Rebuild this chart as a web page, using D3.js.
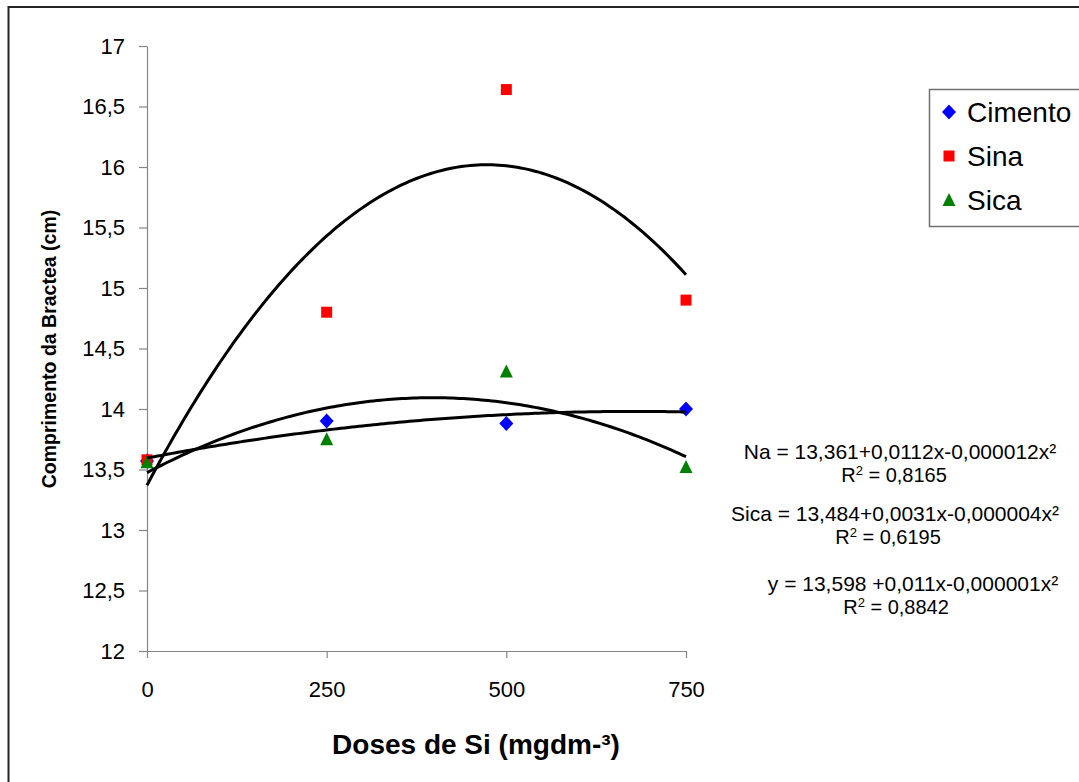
<!DOCTYPE html>
<html>
<head>
<meta charset="utf-8">
<script src="https://cdn.jsdelivr.net/npm/d3@7"></script>
<style>
  body { margin: 0; background: #fff; }
  svg { display: block; font-family: "Liberation Sans", Arial, sans-serif; }
</style>
</head>
<body>
<div class="chart"></div>
<script>
"use strict";

// data
const doses = [0, 250, 500, 750];
const cimento = [13.57, 13.90, 13.88, 14.00];
const sina = [13.58, 14.80, 16.64, 14.90];
const sica = [13.56, 13.75, 14.31, 13.52];

const seriesNames = ["Cimento", "Sina", "Sica"];
const seriesColors = ["#0000ff", "#ff0000", "#008000"];
const yTickValues = [12, 12.5, 13, 13.5, 14, 14.5, 15, 15.5, 16, 16.5, 17];

const equations = [
    "Na = 13,361+0,0112x-0,000012x²",
    "Sica = 13,484+0,0031x-0,000004x²",
    "y = 13,598 +0,011x-0,000001x²"
];
const rSquared = ["0,8165", "0,6195", "0,8842"];

const width = 1079, height = 782;
const plot = {left: 147, right: 686, top: 46, bottom: 651};

let svg = d3.select(".chart").append("svg")
    .attr("width", width)
    .attr("height", height);

// outer chart border (right and bottom fall outside the window)
svg.append("rect")
    .attr("x", 8.5).attr("y", 7)
    .attr("width", 1100).attr("height", 800)
    .style("fill", "none")
    .style("stroke", "#262626")
    .style("stroke-width", 2);

let x = d3.scaleLinear().domain([0, 750]).range([plot.left, plot.right]);
let y = d3.scaleLinear().domain([12, 17]).range([plot.bottom, plot.top]);

let fmt = d => String(d).replace(".", ",");

let yAxis = d3.axisLeft(y)
    .tickValues(yTickValues)
    .tickSize(8)
    .tickSizeOuter(0)
    .tickPadding(14)
    .tickFormat(fmt);

let xAxis = d3.axisBottom(x)
    .tickValues(doses)
    .tickSize(7)
    .tickSizeOuter(0)
    .tickPadding(23)
    .tickFormat(fmt);

let gx = svg.append("g")
    .attr("transform", "translate(0," + plot.bottom + ")")
    .call(xAxis);
let gy = svg.append("g")
    .attr("transform", "translate(" + plot.left + ",0)")
    .call(yAxis);

[gx, gy].forEach(g => {
    g.selectAll("path, line").style("stroke", "#858585").style("stroke-width", 1.2);
    g.selectAll("text")
        .style("font-size", "22px")
        .style("font-family", "'Liberation Sans', Arial, sans-serif")
        .style("fill", "#000");
});

// axis titles
svg.append("text")
    .attr("transform", "translate(56,349) rotate(-90)")
    .attr("text-anchor", "middle")
    .style("font-size", "19.5px")
    .style("font-weight", "bold")
    .text("Comprimento da Bractea (cm)");

svg.append("text")
    .attr("x", 476)
    .attr("y", 754)
    .attr("text-anchor", "middle")
    .style("font-size", "28px")
    .style("font-weight", "bold")
    .text("Doses de Si (mgdm-³)");

// marker shapes
function markerPath(i, cx, cy) {
    if (i === 0) {
        return "M" + cx + "," + (cy - 7.5) + "L" + (cx + 7) + "," + cy +
            "L" + cx + "," + (cy + 7.5) + "L" + (cx - 7) + "," + cy + "Z";
    } else if (i === 1) {
        return "M" + (cx - 5.5) + "," + (cy - 5.5) + "h11v11h-11Z";
    }
    return "M" + cx + "," + (cy - 7) + "L" + (cx + 6.5) + "," + (cy + 6) +
        "L" + (cx - 6.5) + "," + (cy + 6) + "Z";
}

let allSeries = [cimento, sina, sica];

allSeries.forEach((vals, i) => {
    svg.append("g").selectAll("path")
        .data(vals)
        .enter()
        .append("path")
        .attr("d", (d, k) => markerPath(i, x(doses[k]), y(d)))
        .style("fill", seriesColors[i]);
});

// quadratic least-squares trendlines
function quadFit(xs, ys) {
    let s = [0, 0, 0, 0, 0], t = [0, 0, 0];
    xs.forEach((xv, k) => {
        for (let p = 0; p < 5; p++) s[p] += Math.pow(xv, p);
        for (let p = 0; p < 3; p++) t[p] += Math.pow(xv, p) * ys[k];
    });
    let m = [[s[0], s[1], s[2], t[0]], [s[1], s[2], s[3], t[1]], [s[2], s[3], s[4], t[2]]];
    for (let c = 0; c < 3; c++) {
        for (let r = c + 1; r < 3; r++) {
            let f = m[r][c] / m[c][c];
            for (let k = c; k < 4; k++) m[r][k] -= f * m[c][k];
        }
    }
    let coef = [0, 0, 0];
    for (let r = 2; r >= 0; r--) {
        let v = m[r][3];
        for (let k = r + 1; k < 3; k++) v -= m[r][k] * coef[k];
        coef[r] = v / m[r][r];
    }
    return xv => coef[0] + coef[1] * xv + coef[2] * xv * xv;
}

let trend = d3.line()
    .x(d => x(d[0]))
    .y(d => y(d[1]));

let xs = d3.range(0, 751, 5);
allSeries.forEach(vals => {
    let f = quadFit(doses, vals);
    svg.append("path")
        .attr("d", trend(xs.map(v => [v, f(v)])))
        .style("fill", "none")
        .style("stroke", "#000")
        .style("stroke-width", 3)
        .style("stroke-linejoin", "round");
});

// legend
let legend = svg.append("g");
legend.append("rect")
    .attr("x", 929.5).attr("y", 89.5)
    .attr("width", 200).attr("height", 137)
    .style("fill", "#fff")
    .style("stroke", "#707070")
    .style("stroke-width", 1.5);

seriesNames.forEach((name, i) => {
    let cy = 112 + i * 44;
    legend.append("path")
        .attr("d", markerPath(i, 949, cy))
        .style("fill", seriesColors[i]);
    legend.append("text")
        .attr("x", 967)
        .attr("y", cy + 10)
        .style("font-size", "28px")
        .text(name);
});

// trendline equations
let eqPos = [
    {cx: 900, rx: 894, y: 459},
    {cx: 895, rx: 888, y: 521},
    {cx: 913, rx: 896, y: 591}
];

equations.forEach((eq, i) => {
    svg.append("text")
        .attr("x", eqPos[i].cx)
        .attr("y", eqPos[i].y)
        .attr("text-anchor", "middle")
        .style("font-size", "21px")
        .text(eq);
    let r = svg.append("text")
        .attr("x", eqPos[i].rx)
        .attr("y", eqPos[i].y + 23)
        .attr("text-anchor", "middle")
        .style("font-size", "20px");
    r.append("tspan").text("R");
    r.append("tspan").attr("dy", -7).style("font-size", "13px").text("2");
    r.append("tspan").attr("dy", 7).text(" = " + rSquared[i]);
});
</script>
</body>
</html>
